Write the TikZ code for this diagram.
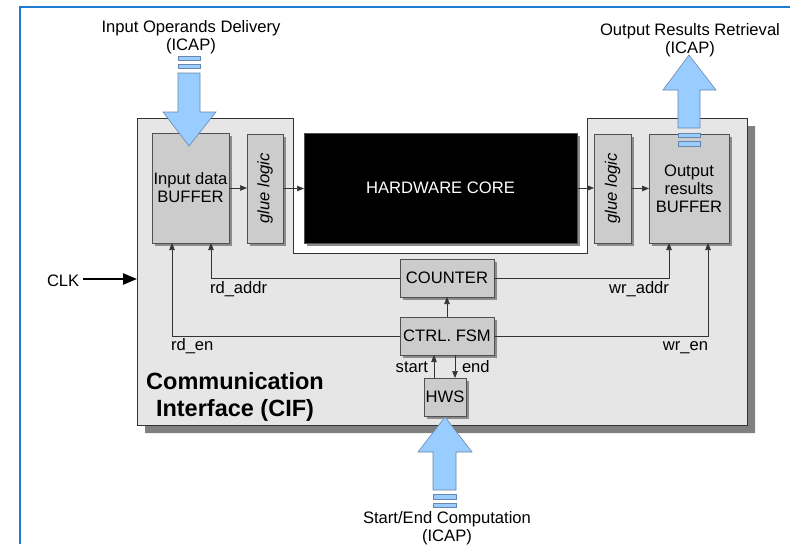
\documentclass[tikz,border=0pt]{standalone}
\usepackage{fontspec}
\setmainfont{Liberation Sans}
\usetikzlibrary{arrows.meta,shadows}
\definecolor{frameblue}{RGB}{30,125,210}
\definecolor{arrowblue}{RGB}{153,204,255}
\definecolor{arrowedge}{RGB}{105,135,170}
\definecolor{cifgray}{RGB}{230,230,230}
\definecolor{boxgray}{RGB}{204,204,204}
\definecolor{edgegray}{RGB}{80,80,80}
\begin{document}
\begin{tikzpicture}[x=1pt,y=-1pt,
  every node/.style={font=\fontsize{16.6}{18}\selectfont, inner sep=0pt, outer sep=0pt},
  blk/.style={draw=edgegray, fill=boxgray, line width=0.8pt,
     general shadow={fill=black!45, shadow xshift=2.5pt, shadow yshift=-2.5pt}},
  sig/.style={draw=black!80, line width=0.7pt, -{Triangle[length=7pt,width=5.5pt]}},
  bigarrow/.style={fill=arrowblue, draw=arrowedge, line width=0.6pt},
  gluetext/.style={rotate=90, font=\fontsize{16.6}{18}\selectfont\itshape},
]
\useasboundingbox (0,0) rectangle (790,544);
\fill[white] (0,0) rectangle (790,544);
\draw[frameblue, line width=2pt] (790,7) -- (20,7) -- (20,544);

% CIF shadow and body
\fill[black!50] (747,126) -- (755,126) -- (755,433) -- (145,433) -- (145,425) -- (747,425) -- cycle;
\filldraw[fill=cifgray, draw=black!80, line width=0.9pt]
  (137,118) -- (293,118) -- (293,253) -- (587,253) -- (587,118) -- (747,118) -- (747,425) -- (137,425) -- cycle;

% blocks
\node[blk, minimum width=77pt, minimum height=110pt, align=center] (ibuf) at (190.5,188) {Input data\\BUFFER};
\node[blk, minimum width=36pt, minimum height=109pt] (g1) at (265,188.5) {};
\node[gluetext] (g1t) at (g1) {glue logic};
\node[blk, fill=black, text=white, minimum width=273pt, minimum height=110pt] (core) at (440.5,188) {HARDWARE CORE};
\node[blk, minimum width=37pt, minimum height=109pt] (g2) at (612.5,188.5) {};
\node[gluetext] (g2t) at (g2) {glue logic};
\node[blk, minimum width=80pt, minimum height=109pt, align=center] (obuf) at (689,188.5) {Output\\results\\BUFFER};

\node[blk, minimum width=94pt, minimum height=38pt] (cnt) at (447,278) {COUNTER};
\node[blk, minimum width=94pt, minimum height=38pt] (fsm) at (447,336) {CTRL. FSM};
\node[blk, minimum width=42pt, minimum height=38pt] (hws) at (445,397) {HWS};

% data path arrows
\draw[sig] (ibuf.east) -- (ibuf.east -| g1.west);
\draw[sig] (g1.east) -- (g1.east -| core.west);
\draw[sig] (core.east) -- (core.east -| g2.west);
\draw[sig] (g2.east) -- (g2.east -| obuf.west);

% control signals
\draw[sig] (fsm.north) -- (cnt.south);
\draw[sig] (cnt.west) -| ([xshift=20.5pt]ibuf.south);
\draw[sig] (fsm.west) -| ([xshift=-18.5pt]ibuf.south);
\draw[sig] (cnt.east) -| ([xshift=-20pt]obuf.south);
\draw[sig] (fsm.east) -| ([xshift=19pt]obuf.south);
\draw[sig] ([xshift=-11pt]hws.north) -- ([xshift=-11pt]hws.north |- fsm.south);
\draw[sig] ([xshift=10pt]fsm.south -| hws.north) -- ([xshift=10pt]hws.north);

% labels
\node[anchor=base west] (lrda) at (210,293) {rd\_addr};
\node[anchor=base west] (lrde) at (171,350) {rd\_en};
\node[anchor=base east] (lwra) at (669,293) {wr\_addr};
\node[anchor=base east] (lwre) at (708,350) {wr\_en};
\node[anchor=base east] (lst) at (428,372) {start};
\node[anchor=base west] (lend) at (462,372) {end};

% CLK
\node[anchor=base west] (lclk) at (47,286) {CLK};
\coordinate (clkin) at (137,279);
\draw[line width=2.3pt, -{Triangle[length=14pt,width=11pt]}] ([xshift=4pt]lclk.east |- clkin) -- (clkin);

% CIF title
\node[align=center, font=\fontsize{23.5}{27.5}\selectfont\bfseries] (cif) at (235,397) {Communication\\Interface (CIF)};

% big blue arrows
\filldraw[bigarrow] (178,73) -- (200,73) -- (200,112) -- (216,112) -- (189,146) -- (163,112) -- (178,112) -- cycle;
\filldraw[bigarrow] (178,56) rectangle (200,60);
\filldraw[bigarrow] (178,64) rectangle (200,68);

\filldraw[bigarrow] (678,128) -- (678,90) -- (663,90) -- (689,55) -- (716,90) -- (700,90) -- (700,128) -- cycle;
\filldraw[bigarrow] (678,133) rectangle (700,137);
\filldraw[bigarrow] (678,141) rectangle (700,146);

\filldraw[bigarrow] (433,490) -- (433,452) -- (418,452) -- (445,417) -- (472,452) -- (456,452) -- (456,490) -- cycle;
\filldraw[bigarrow] (433,494) rectangle (456,499);
\filldraw[bigarrow] (433,503) rectangle (456,507);

% titles
\node[align=center] (tin) at (191,37) {Input Operands Delivery\\(ICAP)};
\node[align=center] (tout) at (690,40) {Output Results Retrieval\\(ICAP)};
\node[align=center] (tstart) at (447,528) {Start/End Computation\\(ICAP)};
\end{tikzpicture}
\end{document}
